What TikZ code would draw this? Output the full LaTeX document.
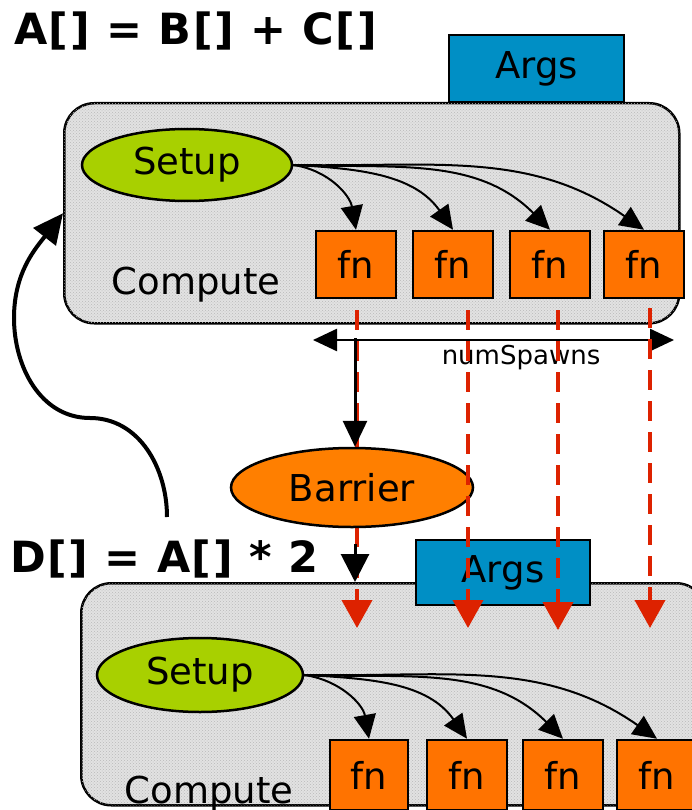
\documentclass[tikz,border=0pt]{standalone}
\usepackage{fontspec}
\setmainfont{DejaVu Sans}
\usetikzlibrary{arrows.meta,shapes.geometric,patterns}
\definecolor{fnorange}{RGB}{255,115,0}
\definecolor{barrierorange}{RGB}{255,127,0}
\definecolor{setupgreen}{RGB}{168,208,0}
\definecolor{argsblue}{RGB}{0,143,197}
\definecolor{dashred}{RGB}{221,34,0}
\definecolor{panelgray}{RGB}{226,226,226}
\definecolor{paneldot}{RGB}{185,185,185}
\newcommand\bigtxt{\fontsize{37}{42}\selectfont}
\newcommand\titletxt{\fontsize{43}{48}\selectfont\bfseries\addfontfeature{LetterSpace=3.5}}
\begin{document}
\begin{tikzpicture}[x=1pt,y=-1pt,
  panel/.style={draw=black, line width=2.5pt, fill=panelgray, rounded corners=30pt, inner sep=0pt, anchor=north west,
    postaction={pattern=crosshatch dots, pattern color=paneldot}},
  fnbox/.style={draw=black, line width=2.5pt, fill=fnorange, minimum width=80pt, minimum height=67pt, inner sep=0pt, font=\bigtxt},
  argsbox/.style={draw=black, line width=2.5pt, fill=argsblue, minimum width=175pt, minimum height=67pt, inner sep=0pt, font=\bigtxt},
  setupnode/.style={ellipse, draw=black, line width=2.5pt, fill=setupgreen, inner sep=0pt, font=\bigtxt},
  barriernode/.style={ellipse, draw=black, line width=2.5pt, fill=barrierorange, minimum width=242pt, minimum height=79pt, inner sep=0pt, font=\bigtxt},
  spawn/.style={line width=2pt, -{Triangle[length=24pt,width=22pt]}},
  redflow/.style={draw=dashred, line width=4pt, dash pattern=on 20pt off 11pt, -{Triangle[length=28pt,width=30pt,fill=dashred]}},
  plain/.style={inner sep=0pt}
]
\useasboundingbox (0,0) rectangle (692,810);

% ---------- top section ----------
\node[plain, anchor=base west, font=\titletxt] (title1) at (14,45) {A[] = B[] + C[]};
\node[argsbox] (args1) at (536.5,68.5) {Args};
\node[panel, minimum width=615pt, minimum height=220pt] (panel1) at (63,102) {};
\node[setupnode, minimum width=210pt, minimum height=72pt] (setup1) at (187,165) {Setup};
\node[plain, anchor=base, font=\bigtxt] (compute1) at (196,294) {Compute};
\node[fnbox] (fa1) at (356,264.5) {fn};
\node[fnbox] (fb1) at (453,264.5) {fn};
\node[fnbox] (fc1) at (550,264.5) {fn};
\node[fnbox] (fd1) at (644,264.5) {fn};

\draw[spawn] (setup1.east) to[out=-8,in=100] (fa1.north);
\draw[spawn] (setup1.east) to[out=-3,in=125] (fb1.north);
\draw[spawn] (setup1.east) to[out=-2,in=135] (fc1.north);
\draw[spawn] (setup1.east) to[out=-1,in=145] (fd1.north);

% ---------- bottom section ----------
\node[plain, anchor=base west, font=\titletxt] (title2) at (10,572) {D[] = A[] * 2};
\node[panel, minimum width=625pt, minimum height=222pt] (panel2) at (80,582) {};
\node[argsbox, minimum width=174pt, minimum height=65pt] (args2) at (503,572.5) {Args};
\node[setupnode, minimum width=206pt, minimum height=74pt] (setup2) at (200,675) {Setup};
\node[plain, anchor=base, font=\bigtxt] (compute2) at (209,803) {Compute};
\node[fnbox, minimum width=78pt, minimum height=70pt] (fa2) at (369,775) {fn};
\node[fnbox, minimum width=80pt, minimum height=70pt] (fb2) at (467,775) {fn};
\node[fnbox, minimum width=80pt, minimum height=70pt] (fc2) at (563,775) {fn};
\node[fnbox, minimum width=80pt, minimum height=70pt] (fd2) at (657,775) {fn};

\draw[spawn] (setup2.east) to[out=-8,in=100] (fa2.north);
\draw[spawn] (setup2.east) to[out=-3,in=125] (fb2.north);
\draw[spawn] (setup2.east) to[out=-2,in=135] (fc2.north);
\draw[spawn] (setup2.east) to[out=-1,in=145] (fd2.north);

% ---------- numSpawns ----------
\coordinate (nsl) at (313,340);
\coordinate (nsr) at (674,340);
\draw[line width=2.5pt, {Triangle[length=24pt,width=22pt]}-{Triangle[length=24pt,width=22pt]}] (nsl) -- (nsr);
\node[plain, anchor=base, font=\fontsize{26}{30}\selectfont] (nslabel) at (521,364) {numSpawns};

% ---------- red flow lines ----------
\coordinate (ra0) at (357,310); \coordinate (ra1) at (357,628);
\coordinate (rb0) at (468,310); \coordinate (rb1) at (468,628);
\coordinate (rc0) at (558,310); \coordinate (rc1) at (558,630);
\coordinate (rd0) at (650,308); \coordinate (rd1) at (650,628);
\draw[redflow] (ra0) -- (ra1);

% ---------- barrier ----------
\coordinate (barrin) at (355,338);
\node[barriernode] (barrier) at (352,487.5) {Barrier};
\draw[line width=3pt, -{Triangle[length=26pt,width=24pt]}] (barrin) -- (barrier.north -| barrin);
\draw[line width=3pt, -{Triangle[length=28pt,width=28pt]}, shorten <=16pt] (barrier.south -| barrin) -- (panel2.north -| barrin);

\draw[redflow] (rb0) -- (rb1);
\draw[redflow] (rc0) -- (rc1);
\draw[redflow] (rd0) -- (rd1);

% ---------- loop back ----------
\coordinate (loopstart) at (167,517);
\draw[line width=4pt, -{Triangle[length=30pt,width=28pt]}]
  (loopstart) to[out=90,in=0] (90,418) to[out=180,in=-90] (14,318) to[out=90,in=232] (panel1.west);
\end{tikzpicture}
\end{document}
